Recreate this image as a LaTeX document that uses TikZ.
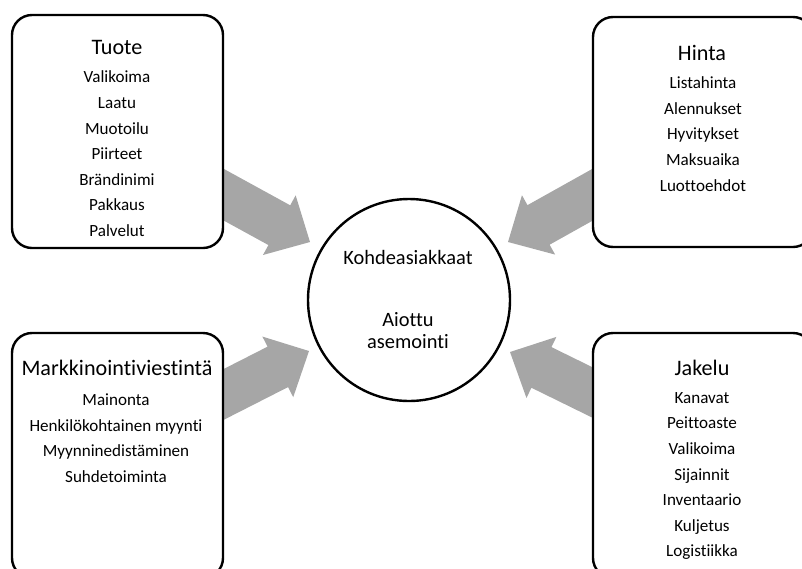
\documentclass[tikz,border=0pt]{standalone}
\usepackage{fontspec}
\setmainfont[Ligatures={NoCommon}]{Carlito}
\usetikzlibrary{calc}
\definecolor{arrowgray}{HTML}{A6A6A6}

\tikzset{
  panel/.style={draw=black, line width=1.8pt, rounded corners=15pt, fill=white,
    inner sep=0pt, outer sep=0pt},
  leftpanel/.style={panel, minimum width=158.25pt},
  rightpanel/.style={panel, minimum width=165pt},
  hub/.style={circle, draw=black, line width=1.8pt, fill=white, minimum size=151.5pt,
    inner sep=0pt, outer sep=0pt},
  head/.style={font=\fontsize{16.6}{19}\selectfont, inner sep=0pt},
  items/.style={font=\fontsize{12.8}{19.2}\selectfont, align=center, inner sep=0pt},
  hubtext/.style={font=\fontsize{15.3}{16.5}\selectfont, align=center, inner sep=0pt},
}

% Wide grey block arrow from a tail coordinate #1 to a tip coordinate #2
\newcommand\blockarrow[2]{%
  \coordinate (#2-b) at ($(#2)!26.25pt!(#1)$);
  \fill[arrowgray]
    ($(#1)!17pt!90:(#2)$) -- ($(#2-b)!17pt!90:(#2)$) -- ($(#2-b)!25.5pt!90:(#2)$)
    -- (#2)
    -- ($(#2-b)!25.5pt!-90:(#2)$) -- ($(#2-b)!17pt!-90:(#2)$) -- ($(#1)!17pt!-90:(#2)$)
    -- cycle;}

\begin{document}
\begin{tikzpicture}[x=0.75pt, y=-0.75pt]
  \useasboundingbox (0,0) rectangle (802,568);
  \clip (0,0) rectangle (802,568);

  % tails (hidden under the panels) and tips (just outside the hub)
  \coordinate (tailTL) at (196,179.5);
  \coordinate (tipTL)  at (310,242);
  \coordinate (tailTR) at (618,180.5);
  \coordinate (tipTR)  at (508,242);
  \coordinate (tailBL) at (196,408.5);
  \coordinate (tipBL)  at (309,351);
  \coordinate (tailBR) at (618,405);
  \coordinate (tipBR)  at (510,352);

  \blockarrow{tailTL}{tipTL}
  \blockarrow{tailTR}{tipTR}
  \blockarrow{tailBL}{tipBL}
  \blockarrow{tailBR}{tipBR}

  % four panels
  \node[leftpanel, minimum height=174.75pt]  (tuote)  at (117.5,131.5) {};
  \node[rightpanel, minimum height=172.5pt]  (hinta)  at (703,132) {};
  \node[leftpanel, minimum height=183.75pt]  (markk)  at (117.5,455.5) {};
  \node[rightpanel, minimum height=183.75pt] (jakelu) at (703,455.5) {};

  % central hub
  \node[hub] (hub) at (409,300) {};
  \node[hubtext] (hubtop) at (408,257) {Kohdeasiakkaat};
  \node[hubtext] (hubbot) at (408,331) {Aiottu\\asemointi};

  % panel contents
  \node[head] (tuoteH) at (117,47) {Tuote};
  \node[items] (tuoteL) at (117,153.8) {Valikoima\\Laatu\\Muotoilu\\Piirteet\\Brändinimi\\Pakkaus\\Palvelut};

  \node[head] (hintaH) at (702,53) {Hinta};
  \node[items] (hintaL) at (703,134) {Listahinta\\Alennukset\\Hyvitykset\\Maksuaika\\Luottoehdot};

  \node[head] (markkH) at (117,368) {Markkinointiviestintä};
  \node[items] (markkL) at (116,438) {Mainonta\\Henkilökohtainen myynti\\Myynninedistäminen\\Suhdetoiminta};

  \node[head] (jakeluH) at (702,368) {Jakelu};
  \node[items] (jakeluL) at (702,476) {Kanavat\\Peittoaste\\Valikoima\\Sijainnit\\Inventaario\\Kuljetus\\Logistiikka};
\end{tikzpicture}
\end{document}
